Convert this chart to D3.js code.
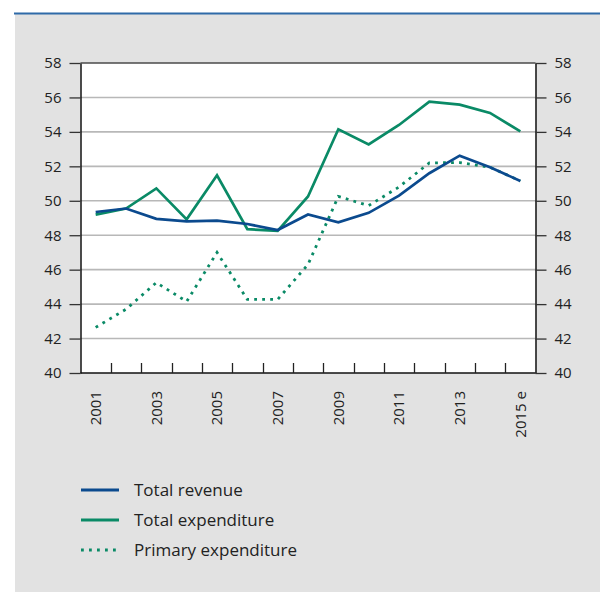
<!DOCTYPE html>
<html>
<head>
<meta charset="utf-8">
<script src="https://cdn.jsdelivr.net/npm/d3@7"></script>
<style>
  html, body { margin: 0; padding: 0; background: #ffffff; }
  svg { display: block; font-family: "Open Sans", "Noto Sans", sans-serif; }
</style>
</head>
<body>
<svg id="chart" width="600" height="592"></svg>
<script>
// Years on the horizontal axis (2015 is an estimate)
const years = [2001, 2002, 2003, 2004, 2005, 2006, 2007, 2008, 2009, 2010, 2011, 2012, 2013, 2014, 2015];
// Labelled years and their text
const labelYears = [2001, 2003, 2005, 2007, 2009, 2011, 2013, 2015];
const labelText = ["2001", "2003", "2005", "2007", "2009", "2011", "2013", "2015 e"];
// Percent values per year
const totalRevenue = [49.35, 49.55, 48.95, 48.8, 48.85, 48.65, 48.3, 49.2, 48.75, 49.3, 50.3, 51.6, 52.62, 51.95, 51.15];
const totalExpenditure = [49.2, 49.55, 50.72, 48.92, 51.48, 48.35, 48.25, 50.25, 54.15, 53.27, 54.4, 55.75, 55.58, 55.1, 54.03];
const primaryExpenditure = [42.65, 43.7, 45.25, 44.15, 47.0, 44.27, 44.27, 46.3, 50.25, 49.72, 50.8, 52.2, 52.22, 51.95, 51.15];
// Vertical axis ticks
const yTicks = [40, 42, 44, 46, 48, 50, 52, 54, 56, 58];
// Legend entries
const seriesNames = ["Total revenue", "Total expenditure", "Primary expenditure"];

const BLUE = "#0b4a8e";
const GREEN = "#0a8a66";

const svg = d3.select("#chart");

// panel background and top rule
svg.append("rect").attr("x", 15).attr("y", 14).attr("width", 585).attr("height", 578).attr("fill", "#e2e2e2");
svg.append("line").attr("x1", 14).attr("x2", 600).attr("y1", 13.5).attr("y2", 13.5)
  .attr("stroke", "#2f6aa8").attr("stroke-width", 2);

const plotLeft = 80.5, plotRight = 535.5, plotTop = 63, plotBottom = 373;

const x = d3.scaleBand().domain(years).range([plotLeft, plotRight]);
const y = d3.scaleLinear().domain([40, 58]).range([plotBottom, plotTop]);
const cx = d => x(d) + x.bandwidth() / 2;

// plot area
svg.append("rect").attr("x", plotLeft).attr("y", plotTop)
  .attr("width", plotRight - plotLeft).attr("height", plotBottom - plotTop).attr("fill", "#ffffff");

// horizontal grid
svg.append("g").selectAll("line").data(yTicks.filter(v => v > 40 && v < 58)).join("line")
  .attr("x1", plotLeft).attr("x2", plotRight).attr("y1", d => y(d)).attr("y2", d => y(d))
  .attr("stroke", "#b8b8b8").attr("stroke-width", 1.6);

// top frame line
svg.append("line").attr("x1", plotLeft).attr("x2", plotRight).attr("y1", y(58)).attr("y2", y(58))
  .attr("stroke", "#4a4a4a").attr("stroke-width", 1.4);

// y axes on both sides
const yLeft = svg.append("g").attr("transform", `translate(${plotLeft},0)`)
  .call(d3.axisLeft(y).tickValues(yTicks).tickSize(11).tickPadding(8).tickSizeOuter(0));
const yRight = svg.append("g").attr("transform", `translate(${plotRight},0)`)
  .call(d3.axisRight(y).tickValues(yTicks).tickSize(11).tickPadding(8).tickSizeOuter(0));
[yLeft, yRight].forEach(g => {
  g.select(".domain").attr("stroke", "#111").attr("stroke-width", 1.5);
  g.selectAll(".tick line").attr("stroke", "#333").attr("stroke-width", 1.3);
  g.selectAll(".tick text").attr("fill", "#222").style("font-size", "15px").style("font-family", "'Open Sans', sans-serif");
});

// bottom axis with inward ticks at year boundaries
svg.append("line").attr("x1", plotLeft).attr("x2", plotRight).attr("y1", plotBottom).attr("y2", plotBottom)
  .attr("stroke", "#111").attr("stroke-width", 1.5);
svg.append("g").selectAll("line").data(years.slice(1)).join("line")
  .attr("x1", d => Math.round(x(d)) + 0.5).attr("x2", d => Math.round(x(d)) + 0.5)
  .attr("y1", plotBottom).attr("y2", plotBottom - 10)
  .attr("stroke", "#222").attr("stroke-width", 1.3);

// rotated year labels
svg.append("g").selectAll("text").data(labelYears).join("text")
  .attr("transform", d => `translate(${cx(d)},391) rotate(-90)`)
  .attr("text-anchor", "end").attr("dy", "0.36em")
  .attr("fill", "#222").style("font-size", "15px")
  .text((d, i) => labelText[i]);

// series lines
const line = d3.line().x((d, i) => cx(years[i])).y(d => y(d));
svg.append("path").datum(primaryExpenditure).attr("d", line)
  .attr("fill", "none").attr("stroke", GREEN).attr("stroke-width", 2.8)
  .attr("stroke-dasharray", "2.8,5.2");
svg.append("path").datum(totalExpenditure).attr("d", line)
  .attr("fill", "none").attr("stroke", GREEN).attr("stroke-width", 2.7).attr("stroke-linejoin", "miter");
svg.append("path").datum(totalRevenue).attr("d", line)
  .attr("fill", "none").attr("stroke", BLUE).attr("stroke-width", 2.7).attr("stroke-linejoin", "miter");

// legend
const legendStyles = [
  { color: BLUE, dash: null },
  { color: GREEN, dash: null },
  { color: GREEN, dash: "2.8,5.2" }
];
const legend = svg.append("g").selectAll("g").data(seriesNames).join("g")
  .attr("transform", (d, i) => `translate(81,${490 + i * 30})`);
legend.append("line").attr("x1", 0).attr("x2", 38).attr("y1", 0).attr("y2", 0)
  .attr("stroke", (d, i) => legendStyles[i].color).attr("stroke-width", 2.8)
  .attr("stroke-dasharray", (d, i) => legendStyles[i].dash);
legend.append("text").attr("x", 53).attr("dy", "0.35em")
  .attr("fill", "#222").style("font-size", "17px")
  .text(d => d);
</script>
</body>
</html>
